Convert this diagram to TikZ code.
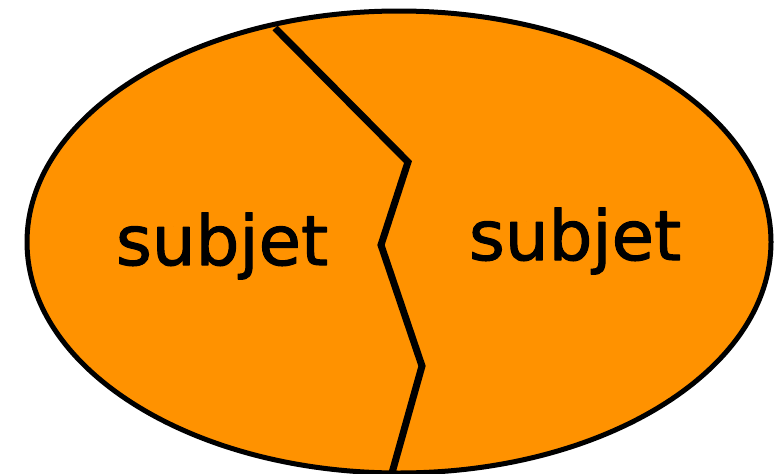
\documentclass[tikz,border=0pt]{standalone}
\usepackage{fontspec}
\setmainfont{DejaVu Sans}
\newfontfamily\etichetta[FakeBold=1.6]{DejaVu Sans}
\definecolor{arancio}{RGB}{255,146,0}
\begin{document}
\begin{tikzpicture}[x=1pt, y=-1pt, line cap=round, line join=round]

% Cornice
\useasboundingbox (0,0) rectangle (774,474);
\clip (0,0) rectangle (774,474);

% Ellisse
\def\RX{372}
\def\RY{231}
\coordinate (C) at (399,242);
\draw[line width=5pt, fill=arancio] (C) ellipse [x radius=\RX, y radius=\RY];

% Taglio a zigzag
\coordinate (T1) at (275,28);
\coordinate (T2) at (408,162);
\coordinate (T3) at (381,245);
\coordinate (T4) at (422,366);
\coordinate (T5) at (390,480);
\draw[line width=7pt, line cap=butt, line join=miter] (T1) -- (T2) -- (T3) -- (T4) -- (T5);

% Etichette
\node[anchor=base, inner sep=0pt, font=\etichetta\fontsize{69}{80}\selectfont] (sx) at (222,265) {subjet};
\node[anchor=base, inner sep=0pt, font=\etichetta\fontsize{69}{80}\selectfont] (dx) at (575,260) {subjet};

\end{tikzpicture}
\end{document}
